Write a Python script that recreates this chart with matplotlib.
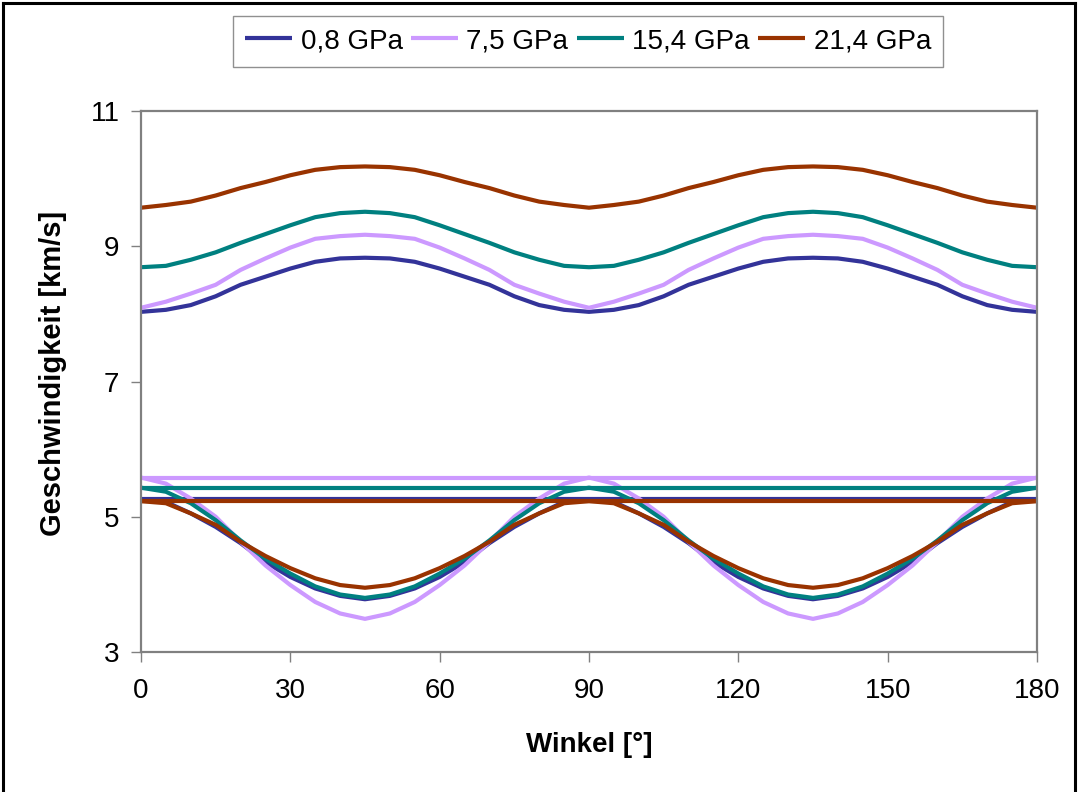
import numpy as np
import matplotlib
matplotlib.use("Agg")
import matplotlib.pyplot as plt
from matplotlib.lines import Line2D

plt.rcParams['font.family'] = ['Liberation Sans', 'DejaVu Sans']

# Winkel in Grad
angles = np.arange(0, 181, 5)

pressures = ["0,8 GPa", "7,5 GPa", "15,4 GPa", "21,4 GPa"]
colors = ["#333399", "#CC99FF", "#008080", "#993300"]

# quasi-P-Welle
vp_08 = [8.03, 8.06, 8.13, 8.26, 8.43, 8.55, 8.67, 8.77, 8.82, 8.83, 8.82, 8.77, 8.67,
         8.55, 8.43, 8.26, 8.13, 8.06, 8.03, 8.06, 8.13, 8.26, 8.43, 8.55, 8.67, 8.77,
         8.82, 8.83, 8.82, 8.77, 8.67, 8.55, 8.43, 8.26, 8.13, 8.06, 8.03]
vp_75 = [8.09, 8.18, 8.30, 8.43, 8.65, 8.82, 8.98, 9.11, 9.15, 9.17, 9.15, 9.11, 8.98,
         8.82, 8.65, 8.43, 8.30, 8.18, 8.09, 8.18, 8.30, 8.43, 8.65, 8.82, 8.98, 9.11,
         9.15, 9.17, 9.15, 9.11, 8.98, 8.82, 8.65, 8.43, 8.30, 8.18, 8.09]
vp_154 = [8.69, 8.71, 8.80, 8.91, 9.05, 9.18, 9.31, 9.43, 9.49, 9.51, 9.49, 9.43, 9.31,
          9.18, 9.05, 8.91, 8.80, 8.71, 8.69, 8.71, 8.80, 8.91, 9.05, 9.18, 9.31, 9.43,
          9.49, 9.51, 9.49, 9.43, 9.31, 9.18, 9.05, 8.91, 8.80, 8.71, 8.69]
vp_214 = [9.57, 9.61, 9.66, 9.75, 9.86, 9.95, 10.05, 10.13, 10.17, 10.18, 10.17, 10.13, 10.05,
          9.95, 9.86, 9.75, 9.66, 9.61, 9.57, 9.61, 9.66, 9.75, 9.86, 9.95, 10.05, 10.13,
          10.17, 10.18, 10.17, 10.13, 10.05, 9.95, 9.86, 9.75, 9.66, 9.61, 9.57]

# quasi-S-Welle (winkelabhängig)
vs1_08 = [5.26, 5.22, 5.05, 4.85, 4.61, 4.33, 4.11, 3.94, 3.83, 3.78, 3.83, 3.94, 4.11,
          4.33, 4.61, 4.85, 5.05, 5.22, 5.26, 5.22, 5.05, 4.85, 4.61, 4.33, 4.11, 3.94,
          3.83, 3.78, 3.83, 3.94, 4.11, 4.33, 4.61, 4.85, 5.05, 5.22, 5.26]
vs1_75 = [5.58, 5.49, 5.27, 5.00, 4.63, 4.28, 3.99, 3.74, 3.57, 3.49, 3.57, 3.74, 3.99,
          4.28, 4.63, 5.00, 5.27, 5.49, 5.58, 5.49, 5.27, 5.00, 4.63, 4.28, 3.99, 3.74,
          3.57, 3.49, 3.57, 3.74, 3.99, 4.28, 4.63, 5.00, 5.27, 5.49, 5.58]
vs1_154 = [5.43, 5.37, 5.20, 4.95, 4.65, 4.38, 4.16, 3.97, 3.85, 3.80, 3.85, 3.97, 4.16,
           4.38, 4.65, 4.95, 5.20, 5.37, 5.43, 5.37, 5.20, 4.95, 4.65, 4.38, 4.16, 3.97,
           3.85, 3.80, 3.85, 3.97, 4.16, 4.38, 4.65, 4.95, 5.20, 5.37, 5.43]
vs1_214 = [5.23, 5.20, 5.05, 4.88, 4.63, 4.42, 4.24, 4.09, 3.99, 3.95, 3.99, 4.09, 4.24,
           4.42, 4.63, 4.88, 5.05, 5.20, 5.23, 5.20, 5.05, 4.88, 4.63, 4.42, 4.24, 4.09,
           3.99, 3.95, 3.99, 4.09, 4.24, 4.42, 4.63, 4.88, 5.05, 5.20, 5.23]

# S-Welle (richtungsunabhängig)
vs2 = [5.26, 5.58, 5.43, 5.23]

vp_all = [vp_08, vp_75, vp_154, vp_214]
vs1_all = [vs1_08, vs1_75, vs1_154, vs1_214]

W, H = 1078, 792
fig = plt.figure(figsize=(W / 100, H / 100), dpi=100)
ax = fig.add_axes([141 / W, 1 - 652 / H, (1037 - 141) / W, (652 - 111) / H])

lw = 3.0
handles = []
for label, col, vp, vs1, v2 in zip(pressures, colors, vp_all, vs1_all, vs2):
    h, = ax.plot(angles, vp, color=col, lw=lw, solid_capstyle='butt', label=label)
    ax.plot(angles, np.full(len(angles), v2), color=col, lw=lw, solid_capstyle='butt')
    ax.plot(angles, vs1, color=col, lw=lw, solid_capstyle='butt')
    handles.append(h)

ax.set_xlim(0, 180)
ax.set_ylim(3, 11)
ax.set_xticks(np.arange(0, 181, 30))
ax.set_yticks([3, 5, 7, 9, 11])

frame_col = '#808080'
for sp in ax.spines.values():
    sp.set_color(frame_col)
    sp.set_linewidth(1.6)
ax.tick_params(axis='both', direction='out', length=7.5, width=1.0,
               color=frame_col, labelsize=20, labelcolor='black')
ax.tick_params(axis='x', pad=11)
ax.tick_params(axis='y', pad=8)

ax.set_xlabel("Winkel [°]", fontsize=20, fontweight='bold')
ax.set_ylabel("Geschwindigkeit [km/s]", fontsize=21, fontweight='bold')
ax.xaxis.set_label_coords(0.5, -0.148)
ax.yaxis.set_label_coords(-0.083, 0.515)

leg = fig.legend(handles=handles, loc='center', bbox_to_anchor=(588 / W, 1 - 41 / H),
                 ncol=4, fontsize=20, frameon=True, fancybox=False, framealpha=1,
                 edgecolor='#909090', handlelength=1.7, handletextpad=0.3,
                 columnspacing=0.3, borderpad=0.45, borderaxespad=0)
leg.get_frame().set_linewidth(1.0)

# Rahmen um die Grafik
for xs, ys in [([3 / W, 3 / W], [0, 1 - 3 / H]),
               ([3 / W, 1075 / W], [1 - 3 / H, 1 - 3 / H]),
               ([1075 / W, 1075 / W], [0, 1 - 3 / H])]:
    fig.add_artist(Line2D(xs, ys, color='black', lw=2.2, transform=fig.transFigure))

fig.savefig("out.png", dpi=100)
